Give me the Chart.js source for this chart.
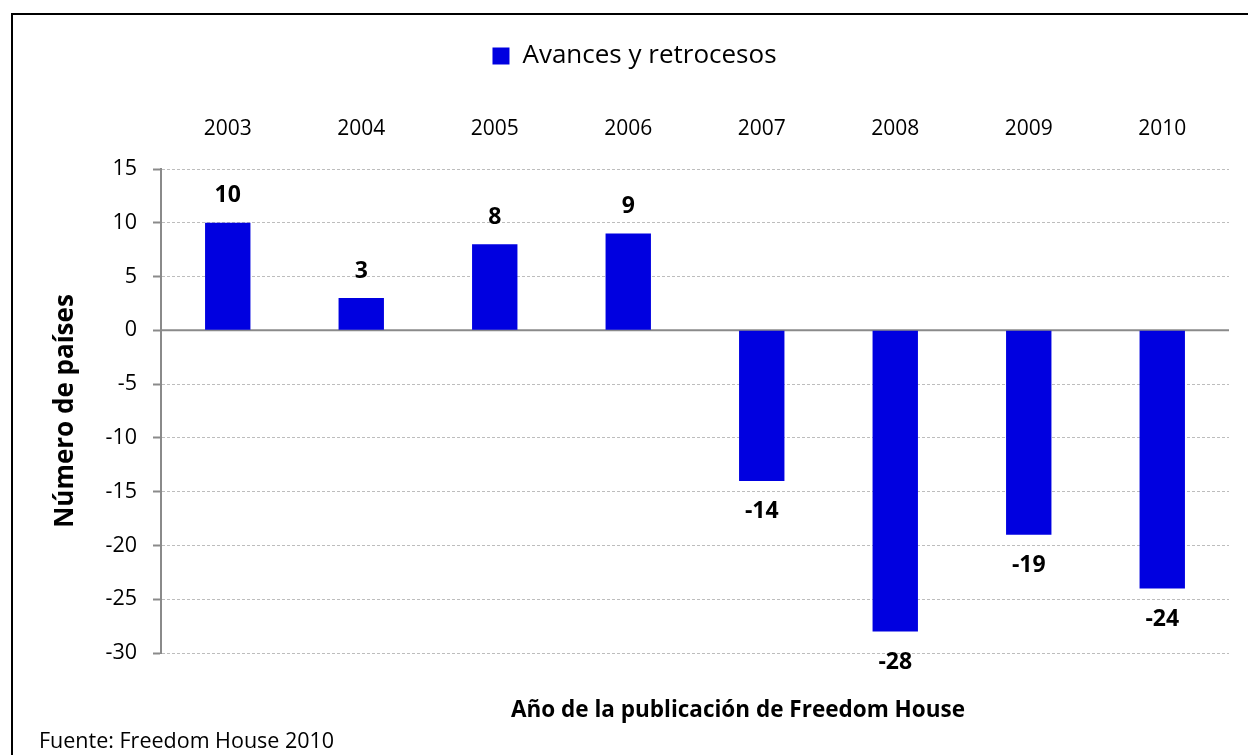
<!DOCTYPE html>
<html>
<head>
<meta charset="utf-8">
<script src="https://cdn.jsdelivr.net/npm/chart.js@4"></script>
<style>
body{margin:0;overflow:hidden;background:#fff;}
#frame{position:absolute;left:11px;top:13px;width:1300px;height:800px;border:2px solid #000;}
#myChart{position:absolute;left:0;top:0;}
</style>
</head>
<body>
<div id="frame"></div>
<canvas id="myChart" width="1248" height="755"></canvas>
<script>
var years = ['2003', '2004', '2005', '2006', '2007', '2008', '2009', '2010'];
var avances = [10, 3, 8, 9, -14, -28, -19, -24];
var yMin = -30, yMax = 15, yStep = 5;

Chart.defaults.font.family = '"Open Sans", "Noto Sans", sans-serif';
Chart.defaults.color = '#000';

// solid gray line at zero
var zeroLine = {
	id: 'zeroLine',
	beforeDatasetsDraw: function(chart) {
		var c = chart.ctx, a = chart.chartArea;
		var y = chart.scales.y.getPixelForValue(0);
		c.save();
		c.strokeStyle = '#8a8a8a';
		c.lineWidth = 2;
		c.beginPath();
		c.moveTo(a.left, y);
		c.lineTo(a.right, y);
		c.stroke();
		c.restore();
	}
};

// values above / below each bar
var barLabels = {
	id: 'barLabels',
	afterDatasetsDraw: function(chart) {
		var c = chart.ctx;
		var meta = chart.getDatasetMeta(0);
		c.save();
		c.font = 'bold 23px "Open Sans", sans-serif';
		c.fillStyle = '#000';
		c.textAlign = 'center';
		c.textBaseline = 'middle';
		meta.data.forEach(function(bar, i) {
			var v = avances[i];
			var y = v >= 0 ? bar.y - 27 : bar.y + 31;
			c.fillText(String(v), bar.x, y);
		});
		c.restore();
	}
};

// axis title under the plot and source note
var bottomText = {
	id: 'bottomText',
	afterDraw: function(chart) {
		var c = chart.ctx, a = chart.chartArea;
		c.save();
		c.fillStyle = '#000';
		c.textBaseline = 'middle';
		c.textAlign = 'center';
		c.font = 'bold 22.5px "Open Sans", sans-serif';
		c.fillText('Año de la publicación de Freedom House', (a.left + a.right) / 2 + 43, 711);
		c.textAlign = 'left';
		c.font = '21.5px "Open Sans", sans-serif';
		c.fillText('Fuente: Freedom House 2010', 39, 742);
		c.restore();
	}
};

var myChart = document.getElementById('myChart').getContext('2d');
var AvancesChart = new Chart(myChart, {
	type: 'bar',
	data: {
		labels: years,
		datasets: [{
			label: 'Avances y retrocesos',
			data: avances,
			backgroundColor: '#0000e0',
			borderWidth: 0,
			categoryPercentage: 1,
			barPercentage: 0.34
		}]
	},
	options: {
		responsive: false,
		animation: false,
		devicePixelRatio: 1,
		layout: {
			padding: {left: 40, right: 19, top: 33, bottom: 102}
		},
		plugins: {
			legend: {
				position: 'top',
				labels: {
					boxWidth: 17,
					boxHeight: 17,
					padding: 10,
					font: {size: 26}
				}
			},
			tooltip: {enabled: false}
		},
		scales: {
			x: {
				position: 'top',
				grid: {display: false},
				border: {display: false},
				ticks: {font: {size: 21}, padding: 19},
				afterFit: function(s) { s.height = 90; }
			},
			y: {
				min: yMin,
				max: yMax,
				ticks: {stepSize: yStep, font: {size: 21.5}, padding: 16},
				grid: {
					color: '#bdbdbd',
					lineWidth: 1,
					tickColor: '#8a8a8a',
					tickLength: 8,
					tickWidth: 2
				},
				border: {display: true, color: '#8a8a8a', width: 2, dash: [3, 2]},
				title: {
					display: true,
					text: 'Número de países',
					font: {size: 26, weight: 'bold'},
					padding: {top: 10}
				},
				afterFit: function(s) { s.width = 121; }
			}
		}
	},
	plugins: [zeroLine, barLabels, bottomText]
});
</script>
</body>
</html>
